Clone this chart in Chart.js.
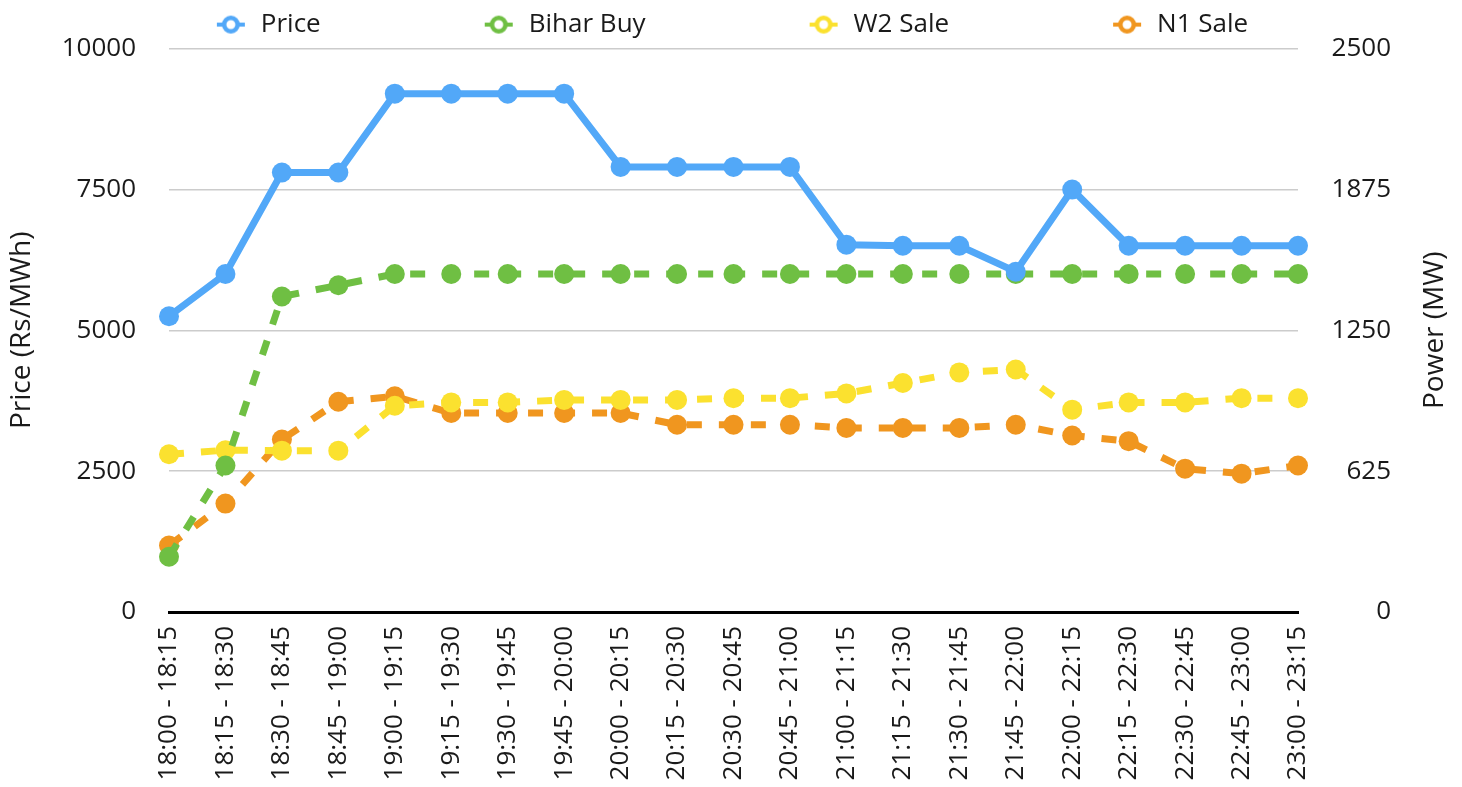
<!DOCTYPE html>
<html><head><meta charset="utf-8">
<script src="https://cdn.jsdelivr.net/npm/chart.js@4/dist/chart.umd.min.js"></script>
<style>html,body{margin:0;padding:0;background:#fff}canvas{display:block}</style>
</head><body>
<canvas id="c" width="1462" height="787"></canvas>
<script>
const categories = ["18:00 - 18:15","18:15 - 18:30","18:30 - 18:45","18:45 - 19:00","19:00 - 19:15","19:15 - 19:30","19:30 - 19:45","19:45 - 20:00","20:00 - 20:15","20:15 - 20:30","20:30 - 20:45","20:45 - 21:00","21:00 - 21:15","21:15 - 21:30","21:30 - 21:45","21:45 - 22:00","22:00 - 22:15","22:15 - 22:30","22:30 - 22:45","22:45 - 23:00","23:00 - 23:15"];
const priceValues = [5250,6000,7800,7800,9200,9200,9200,9200,7900,7900,7900,7900,6520,6500,6500,6040,7500,6500,6500,6500,6500];
const biharBuy = [245,650,1400,1450,1500,1500,1500,1500,1500,1500,1500,1500,1500,1500,1500,1500,1500,1500,1500,1500,1500];
const w2Sale = [700,718,716,716,915,930,930,941,941,941,949,949,970,1016,1063,1076,898,930,930,949,949];
const n1Sale = [295,481,765,933,957,883,883,883,883,831,831,831,817,817,817,831,783,758,636,614,650];
const priceTicks = [0,2500,5000,7500,10000];
const powerTicks = [0,625,1250,1875,2500];
const seriesNames = ["Price","Bihar Buy","W2 Sale","N1 Sale"];
const leftTitle = "Price (Rs/MWh)";
const rightTitleText = "Power (MW)";

const BLUE = '#52a8f8', GREEN = '#6fbf43', YELLOW = '#fbe12f', ORANGE = '#f0961f';
const TEXT = '#1a1a1a';
const FONT = "'Open Sans', 'Noto Sans', sans-serif";
Chart.defaults.font.family = FONT;
Chart.defaults.color = TEXT;

function makeIcon(color){
  const c = document.createElement('canvas'); c.width = 30; c.height = 24;
  const g = c.getContext('2d');
  g.strokeStyle = color; g.lineWidth = 4;
  g.beginPath(); g.moveTo(1, 12); g.lineTo(29, 12); g.stroke();
  g.lineWidth = 4.5;
  g.beginPath(); g.arc(15, 12, 6.75, 0, Math.PI*2); g.fillStyle = '#fff'; g.fill(); g.stroke();
  return c;
}

const LEG_PAD = 161;
const RIGHT_PAD = 71;
const legendFix = {
  id: 'legendFix',
  beforeUpdate(chart){
    const lg = chart.legend;
    if (!lg || lg._fixed) return;
    lg._fixed = true;
    const fit = lg.fit;
    lg.fit = function(){ fit.call(this); this.height = 46; };
    const inner = lg._draw;
    lg._draw = function(){
      const ctx = this.ctx; ctx.save();
      ctx.translate(RIGHT_PAD / 2, -(LEG_PAD + 13 - 22));
      inner.call(this); ctx.restore();
    };
  }
};
const rightTitle = {
  id: 'rightTitle',
  afterDraw(chart){
    const ca = chart.chartArea, ctx = chart.ctx;
    ctx.save();
    ctx.translate(chart.width - 27, (ca.top + ca.bottom)/2);
    ctx.rotate(-Math.PI/2);
    ctx.font = "28px " + FONT; ctx.fillStyle = TEXT;
    ctx.textAlign = 'center'; ctx.textBaseline = 'middle';
    ctx.fillText(rightTitleText, 0, 0);
    ctx.restore();
  }
};

function lineDs(label, data, color, axis, dashed){
  return {
    label, data, yAxisID: axis,
    borderColor: color, backgroundColor: color,
    borderWidth: 7, borderDash: dashed ? [15,17] : [],
    pointRadius: 10, pointHoverRadius: 10, pointBorderWidth: 0,
    pointBackgroundColor: color, tension: 0, fill: false, clip: false
  };
}

new Chart(document.getElementById('c'), {
  type: 'line',
  data: {
    labels: categories,
    datasets: [
      lineDs(seriesNames[0], priceValues, BLUE, 'yPrice', false),
      lineDs(seriesNames[1], biharBuy, GREEN, 'yPower', true),
      lineDs(seriesNames[2], w2Sale, YELLOW, 'yPower', true),
      lineDs(seriesNames[3], n1Sale, ORANGE, 'yPower', true)
    ]
  },
  options: {
    responsive: false, animation: false,
    layout: { padding: { left: 0, top: 0, bottom: 0, right: RIGHT_PAD } },
    plugins: {
      tooltip: { enabled: false },
      legend: {
        position: 'top', align: 'center',
        labels: {
          usePointStyle: true, pointStyleWidth: 34, padding: LEG_PAD,
          font: { size: 26, family: FONT }, color: TEXT,
          generateLabels(chart){
            return chart.data.datasets.map((ds, i) => ({
              text: ds.label, fillStyle: '#fff', strokeStyle: ds.borderColor, lineWidth: 0,
              pointStyle: makeIcon(ds.borderColor), hidden: false, datasetIndex: i, fontColor: TEXT
            }));
          }
        }
      }
    },
    scales: {
      x: {
        type: 'category', offset: false,
        grid: { display: false, drawTicks: false },
        border: { display: true, color: '#000', width: 3 },
        ticks: { minRotation: 90, maxRotation: 90, autoSkip: false, padding: 14, font: { size: 26 }, color: TEXT },
        afterFit(s){ s.height = 175; }
      },
      yPrice: {
        position: 'left', min: 0, max: 10000,
        afterBuildTicks(s){ s.ticks = priceTicks.map(v => ({ value: v })); },
        grid: { color: '#cccccc', lineWidth: 1.5, drawTicks: false },
        border: { display: false },
        ticks: { padding: 33, font: { size: 26 }, color: TEXT, callback: v => String(v) },
        title: { display: true, text: leftTitle, font: { size: 28 }, color: TEXT, padding: { top: 5, bottom: 0 } },
        afterFit(s){ s.width = 169; }
      },
      yPower: {
        position: 'right', min: 0, max: 2500,
        afterBuildTicks(s){ s.ticks = powerTicks.map(v => ({ value: v })); },
        grid: { display: false, drawTicks: false },
        border: { display: false },
        ticks: { padding: 33, crossAlign: 'far', font: { size: 26 }, color: TEXT, callback: v => String(v) },
        afterFit(s){ s.width = 93; }
      }
    }
  },
  plugins: [legendFix, rightTitle]
});
</script>
</body></html>
